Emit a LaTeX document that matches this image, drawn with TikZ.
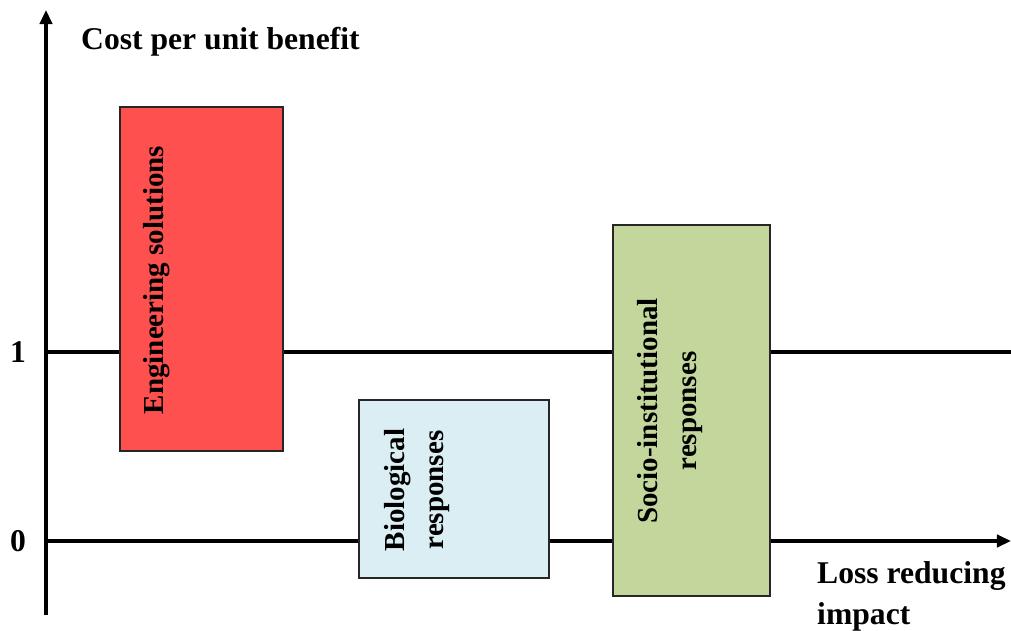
\documentclass[tikz,border=0pt]{standalone}
\usepackage{fontspec}
\setmainfont{Liberation Serif}
\usetikzlibrary{positioning, arrows.meta}

\definecolor{engred}{RGB}{255,80,80}
\definecolor{bioblue}{RGB}{218,238,243}
\definecolor{sociogreen}{RGB}{195,214,155}

\begin{document}
\begin{tikzpicture}[
  >={Triangle[length=8pt, width=7pt]},
  axis/.style={line width=2pt},
  band/.style={draw=black!85, line width=0.9pt, inner sep=0pt, anchor=south west},
  bandtext/.style={font=\fontsize{16.5}{22.7}\selectfont\bfseries, rotate=90, align=center},
  axistext/.style={font=\fontsize{18}{23.5}\selectfont\bfseries},
]

\useasboundingbox (0, 0) rectangle (20.22, 12.6);

% --- Axes ---
\coordinate (ybot) at (0.92, 0.3);
\coordinate (ytop) at (0.92, 12.4);
\coordinate (zero) at (0.92, 1.78);
\coordinate (xend) at (20.22, 1.78);
\coordinate (one) at (0.92, 5.56);
\coordinate (oneend) at (20.22, 5.56);

\draw[axis, ->] (ybot) -- (ytop);
\draw[axis, ->] (zero) -- (xend);
\draw[axis] (one) -- (oneend);

\node[axistext] (lblone) at (0.36, 5.56) {1};
\node[axistext] (lblzero) at (0.36, 1.78) {0};

\node[axistext, anchor=west] (ylabel) at (1.5, 11.76) {Cost per unit benefit};
\node[axistext, anchor=north west, align=left] (xlabel) at (16.22, 1.5)
  {Loss reducing\\impact};

% --- Response bands ---
\node[band, fill=engred, minimum width=3.26cm, minimum height=6.88cm]
  (eng) at (2.38, 3.56) {};
\node[band, fill=bioblue, minimum width=3.8cm, minimum height=3.56cm]
  (bio) at (7.16, 1.02) {};
\node[band, fill=sociogreen, minimum width=3.14cm, minimum height=7.42cm]
  (socio) at (12.24, 0.66) {};

\node[bandtext] (engtxt) at (3.14, 7.0) {Engineering solutions};
\node[bandtext] (biotxt) at (8.34, 2.8) {Biological\\responses};
\node[bandtext] (sociotxt) at (13.4, 4.38) {Socio-institutional\\responses};

\end{tikzpicture}
\end{document}
